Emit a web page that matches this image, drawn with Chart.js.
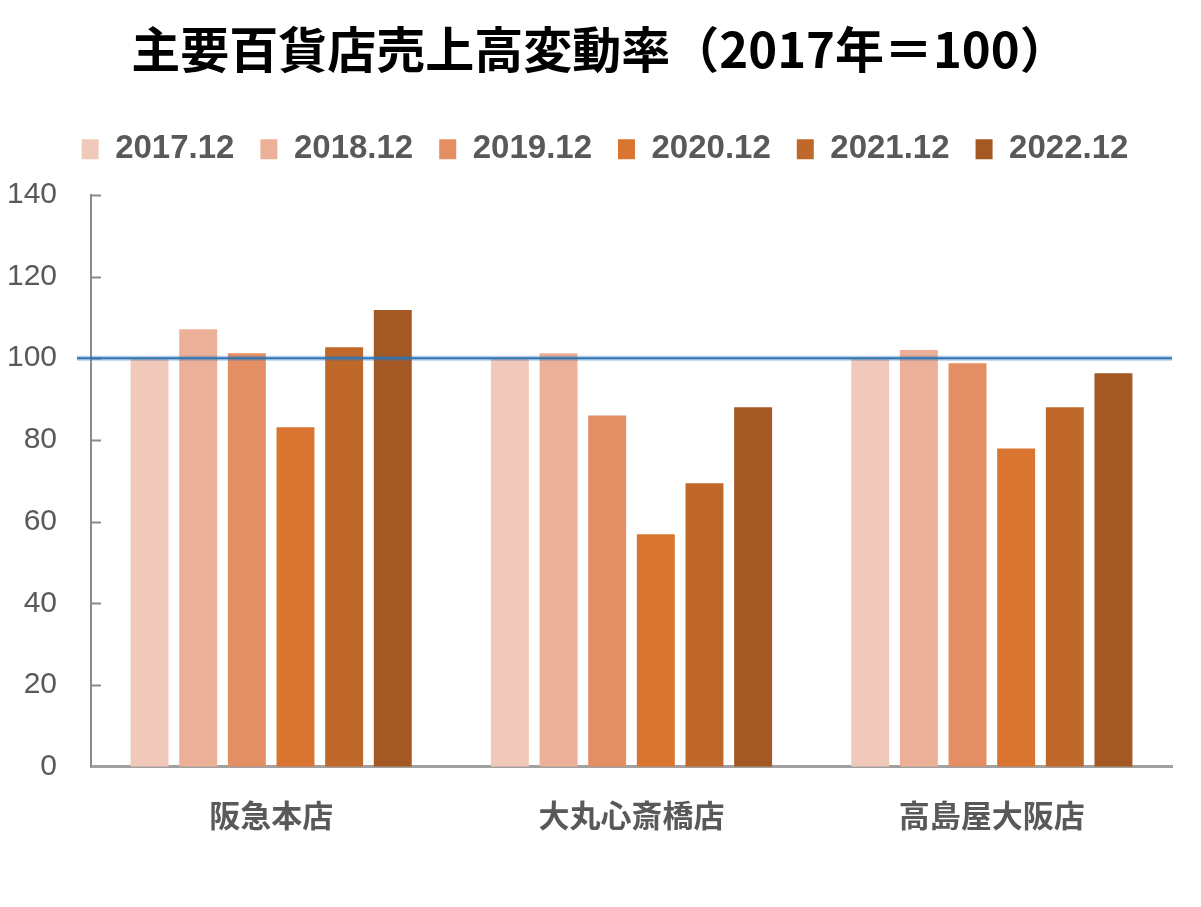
<!DOCTYPE html>
<html>
<head>
<meta charset="utf-8">
<script src="https://cdn.jsdelivr.net/npm/chart.js@4.4.0/dist/chart.umd.min.js"></script>
<style>
  html, body { margin: 0; padding: 0; background: #fff; }
  #wrap { width: 1201px; height: 907px; position: relative; }
</style>
</head>
<body>
<div id="wrap"><canvas id="chart"></canvas></div>
<script>
// stores and years
const stores = ['阪急本店', '大丸心斎橋店', '高島屋大阪店'];
const years = ['2017.12', '2018.12', '2019.12', '2020.12', '2021.12', '2022.12'];
const colors = ['#F0C9BA', '#ECAF97', '#E48E63', '#D97531', '#C0672A', '#A45824'];

// index values per year, one per store
const y2017 = [100, 100, 100];
const y2018 = [107.1, 101.2, 102.0];
const y2019 = [101.2, 86.0, 98.8];
const y2020 = [83.1, 56.9, 77.9];
const y2021 = [102.7, 69.4, 88.0];
const y2022 = [111.8, 88.0, 96.3];
const series = [y2017, y2018, y2019, y2020, y2021, y2022];

const baseLine = 100;
const yTicks = [0, 20, 40, 60, 80, 100, 120, 140];

const gray = '#595959';

// extra room under the legend, and nudge title/legend a bit to the right
const legendGap = {
  id: 'legendGap',
  beforeInit(chart) {
    const fit = chart.legend.fit;
    chart.legend.fit = function () {
      fit.call(this);
      this.height += 19;
    };
  },
  afterLayout(chart) {
    chart.legend.left += 19;
    chart.legend.right += 19;
    chart.titleBlock.left += 14;
    chart.titleBlock.right += 14;
  }
};

// blue line at 100 and small inside tick marks
const extras = {
  id: 'extras',
  afterDatasetsDraw(chart) {
    const ctx = chart.ctx;
    const y = chart.scales.y;
    const area = chart.chartArea;
    ctx.save();
    ctx.strokeStyle = '#8a8a8a';
    ctx.lineWidth = 2;
    yTicks.forEach(v => {
      if (v === 0) return;
      const py = Math.round(y.getPixelForValue(v)) + 0.5;
      ctx.beginPath();
      ctx.moveTo(area.left, py);
      ctx.lineTo(area.left + 10, py);
      ctx.stroke();
    });
    const by = y.getPixelForValue(baseLine);
    ctx.strokeStyle = 'rgba(46,117,182,0.35)';
    ctx.lineWidth = 5;
    ctx.beginPath();
    ctx.moveTo(area.left - 14, by);
    ctx.lineTo(area.right, by);
    ctx.stroke();
    ctx.strokeStyle = '#2E75B6';
    ctx.lineWidth = 2;
    ctx.beginPath();
    ctx.moveTo(area.left - 14, by);
    ctx.lineTo(area.right, by);
    ctx.stroke();
    ctx.restore();
  }
};

new Chart(document.getElementById('chart'), {
  type: 'bar',
  data: {
    labels: stores,
    datasets: years.map((yr, i) => ({
      label: yr,
      data: series[i],
      backgroundColor: colors[i],
      borderWidth: 0,
      categoryPercentage: 0.81,
      barPercentage: 0.78
    }))
  },
  options: {
    responsive: true,
    maintainAspectRatio: false,
    animation: false,
    layout: { padding: { left: 0, right: 29, top: 20, bottom: 43 } },
    plugins: {
      title: {
        display: true,
        text: '主要百貨店売上高変動率（2017年＝100）',
        color: '#000',
        font: { family: '"Noto Sans CJK JP"', size: 49, weight: 'bold' },
        padding: { top: 0, bottom: 28 }
      },
      legend: {
        position: 'top',
        labels: {
          color: gray,
          boxWidth: 17,
          boxHeight: 20,
          padding: 26,
          font: { family: '"Liberation Sans"', size: 33, weight: 'bold' }
        }
      },
      tooltip: { enabled: false }
    },
    scales: {
      x: {
        grid: { display: false, drawTicks: false },
        border: { color: '#a0a0a0', width: 3 },
        ticks: {
          color: gray,
          padding: 30,
          font: { family: '"Noto Sans CJK JP"', size: 31, weight: 'bold' }
        }
      },
      y: {
        min: 0,
        max: 140,
        afterBuildTicks(axis) { axis.ticks = yTicks.map(v => ({ value: v })); },
        afterFit(axis) { axis.width = 91; },
        grid: { display: false, drawTicks: false },
        border: { color: '#8a8a8a', width: 2 },
        ticks: {
          color: gray,
          padding: 34,
          font: { family: '"Liberation Sans"', size: 30 }
        }
      }
    }
  },
  plugins: [legendGap, extras]
});
</script>
</body>
</html>
